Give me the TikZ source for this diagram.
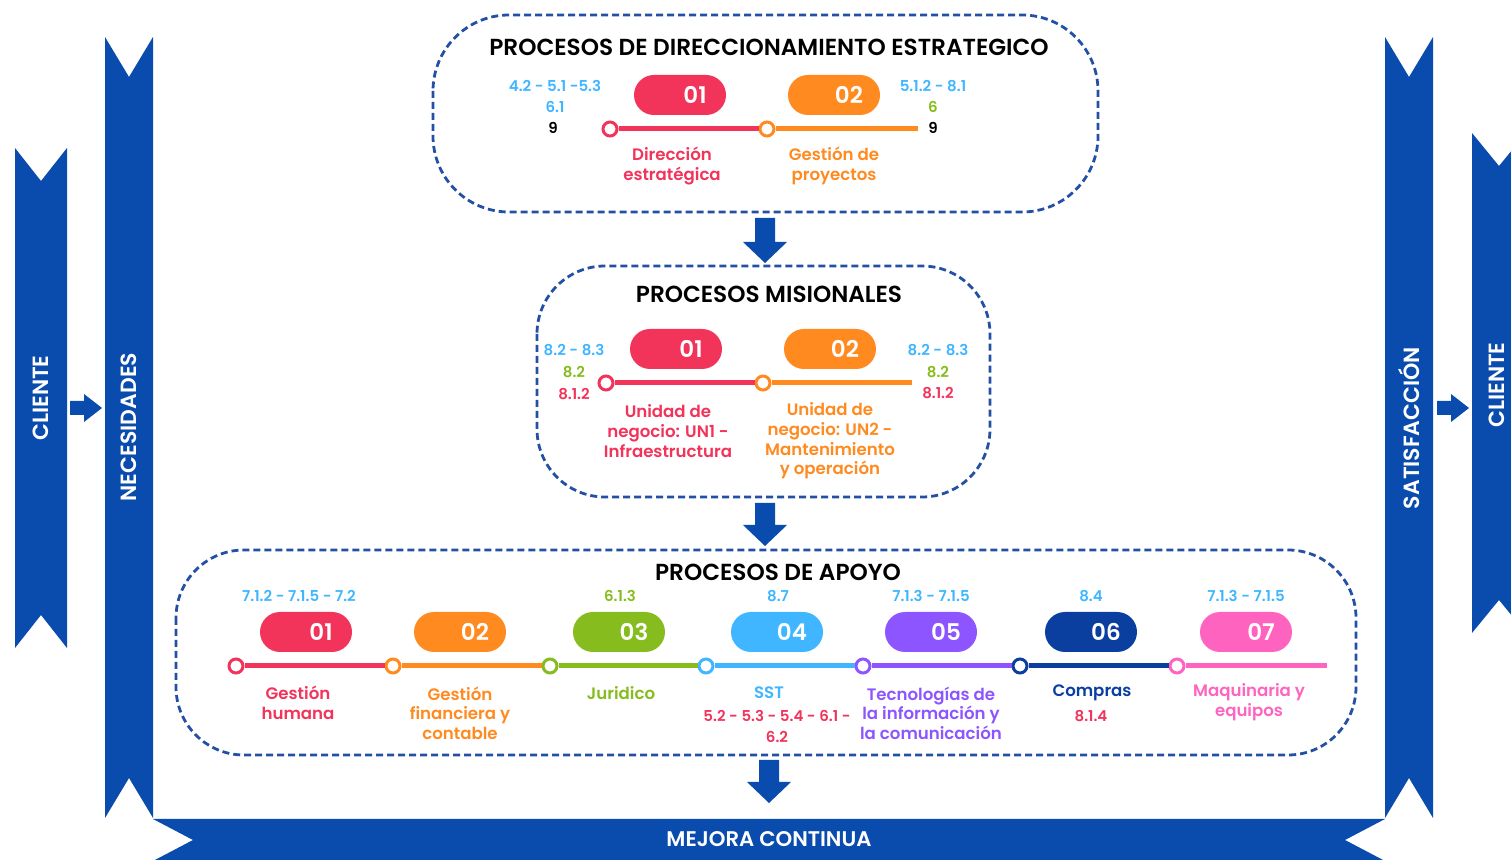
\documentclass[tikz,border=0pt]{standalone}
\usepackage{fontspec}
\setmainfont{Poppins}
\newfontfamily\semib{Poppins SemiBold}
\definecolor{mblue}{HTML}{0A4BAE}
\definecolor{dashblue}{HTML}{2350A5}
\definecolor{cred}{HTML}{F2335A}
\definecolor{corange}{HTML}{FF8A1F}
\definecolor{cgreen}{HTML}{86BC1E}
\definecolor{clblue}{HTML}{3FB6FF}
\definecolor{cpurple}{HTML}{8D55FF}
\definecolor{cnavy}{HTML}{0A3FA0}
\definecolor{cpink}{HTML}{FF63C0}
\tikzset{
  title/.style={font=\fontsize{11.6}{13}\selectfont\semib, text=black},
  pill/.style={fill=#1, rounded corners=10pt, minimum width=46pt, minimum height=20pt, inner sep=0pt, text=white, font=\fontsize{11.5}{12}\selectfont\semib},
  dot/.style={circle, draw=#1, fill=white, line width=1.5pt, minimum size=7pt, inner sep=0pt},
  tline/.style={line width=2.5pt, #1},
  lbl/.style={align=center, text=#1, font=\fontsize{8.3}{9.8}\selectfont\semib, inner sep=0pt},
  code/.style={align=center, text=#1, font=\fontsize{7.5}{10.5}\selectfont\semib, inner sep=0pt},
  dbox/.style={draw=dashblue, dash pattern=on 3.5pt off 2pt, line width=1.4pt},
  banner/.style={fill=mblue},
  btxt/.style={text=white, font=\fontsize{11}{12}\selectfont\semib, rotate=90},
}
\begin{document}
\begin{tikzpicture}[x=0.5pt,y=-0.5pt]
\useasboundingbox (0,0) rectangle (1511,860);
\clip (0,0) rectangle (1511,860);

% banners
\fill[banner] (15,148) -- (41,181) -- (67,148) -- (67,648) -- (41,615) -- (15,648) -- cycle;
\fill[banner] (105,37) -- (129,77) -- (153,37) -- (153,818) -- (129,778) -- (105,818) -- cycle;
\fill[banner] (1385,37) -- (1409,77) -- (1433,37) -- (1433,818) -- (1409,778) -- (1385,818) -- cycle;
\fill[banner] (1472,133) -- (1499,166) -- (1526,133) -- (1526,633) -- (1499,600) -- (1472,633) -- cycle;
\fill[banner] (153,819) -- (1385,819) -- (1345,840) -- (1385,861) -- (153,861) -- (193,840) -- cycle;

\node[btxt] (cli1) at (41,398) {CLIENTE};
\node[btxt] (nec) at (129,427) {NECESIDADES};
\node[btxt] (sat) at (1409,428) {SATISFACCIÓN};
\node[btxt] (cli2) at (1497,385) {CLIENTE};
\node[text=white, font=\fontsize{10.6}{11}\selectfont\semib] (mej) at (769,839) {MEJORA CONTINUA};

% small right arrows
\fill[mblue] (70,401) -- (84,401) -- (84,394) -- (102,408) -- (84,422) -- (84,415) -- (70,415) -- cycle;
\fill[mblue] (1437,401) -- (1451,401) -- (1451,394) -- (1469,408) -- (1451,422) -- (1451,415) -- (1437,415) -- cycle;

% down arrows
\fill[mblue] (755,218) -- (775,218) -- (775,242) -- (787,242) -- (765,263) -- (743,242) -- (755,242) -- cycle;
\fill[mblue] (755,503) -- (775,503) -- (775,525) -- (787,525) -- (765,546) -- (743,525) -- (755,525) -- cycle;
\fill[mblue] (759,760) -- (779,760) -- (779,782) -- (791,782) -- (769,803) -- (747,782) -- (759,782) -- cycle;

% ===== top box
\draw[dbox, rounded corners=38pt] (433,15) rectangle (1098,212);
\node[title] (t1) at (769,47) {PROCESOS DE DIRECCIONAMIENTO ESTRATEGICO};
\node[pill=cred] (p11) at (680,95) {\hspace*{15pt}01};
\node[pill=corange] (p12) at (834,95) {\hspace*{15pt}02};
\node[dot=cred] (d11) at (610,129) {};
\node[dot=corange] (d12) at (767,129) {};
\coordinate (e1) at (918,129);
\draw[tline=cred] (d11.east) -- (d12.west);
\draw[tline=corange] (d12.east) -- (e1);
\node[code=clblue] (c11) at (555,86) {4.2 - 5.1 -5.3};
\node[code=clblue] (c12) at (555,107) {6.1};
\node[code=black] (c13) at (553,128) {9};
\node[code=clblue] (c14) at (933,86) {5.1.2 - 8.1};
\node[code=cgreen] (c15) at (933,107) {6};
\node[code=black] (c16) at (933,128) {9};
\node[lbl=cred] (l11) at (672,166) {Dirección\\estratégica};
\node[lbl=corange] (l12) at (834,166) {Gestión de\\proyectos};

% ===== middle box
\draw[dbox, rounded corners=34pt] (537,266) rectangle (990,497);
\node[title] (t2) at (769,294) {PROCESOS MISIONALES};
\node[pill=cred] (p21) at (676,349) {\hspace*{15pt}01};
\node[pill=corange] (p22) at (830,349) {\hspace*{15pt}02};
\node[dot=cred] (d21) at (606,383) {};
\node[dot=corange] (d22) at (763,383) {};
\coordinate (e2) at (912,383);
\draw[tline=cred] (d21.east) -- (d22.west);
\draw[tline=corange] (d22.east) -- (e2);
\node[code=clblue] (c21) at (574,350) {8.2 - 8.3};
\node[code=cgreen] (c22) at (574,372) {8.2};
\node[code=cred] (c23) at (574,394) {8.1.2};
\node[code=clblue] (c24) at (938,350) {8.2 - 8.3};
\node[code=cgreen] (c25) at (938,372) {8.2};
\node[code=cred] (c26) at (938,393) {8.1.2};
\node[lbl=cred] (l21) at (668,431) {Unidad de\\negocio: UN1 -\\Infraestructura};
\node[lbl=corange] (l22) at (830,441) {Unidad de\\negocio: UN2 -\\Mantenimiento\\y operación};

% ===== bottom box
\draw[dbox, rounded corners=34pt] (176,550) rectangle (1356,755);
\node[title] (t3) at (778,572) {PROCESOS DE APOYO};
\node[pill=cred] (p31) at (306,632) {\hspace*{15pt}01};
\node[pill=corange] (p32) at (460,632) {\hspace*{15pt}02};
\node[pill=cgreen] (p33) at (619,632) {\hspace*{15pt}03};
\node[pill=clblue] (p34) at (777,632) {\hspace*{15pt}04};
\node[pill=cpurple] (p35) at (931,632) {\hspace*{15pt}05};
\node[pill=cnavy] (p36) at (1091,632) {\hspace*{15pt}06};
\node[pill=cpink] (p37) at (1246,632) {\hspace*{15pt}07};
\node[dot=cred] (d31) at (236,666) {};
\node[dot=corange] (d32) at (393,666) {};
\node[dot=cgreen] (d33) at (550,666) {};
\node[dot=clblue] (d34) at (706,666) {};
\node[dot=cpurple] (d35) at (863,666) {};
\node[dot=cnavy] (d36) at (1020,666) {};
\node[dot=cpink] (d37) at (1177,666) {};
\coordinate (e3) at (1327,666);
\draw[tline=cred] (d31.east) -- (d32.west);
\draw[tline=corange] (d32.east) -- (d33.west);
\draw[tline=cgreen] (d33.east) -- (d34.west);
\draw[tline=clblue] (d34.east) -- (d35.west);
\draw[tline=cpurple] (d35.east) -- (d36.west);
\draw[tline=cnavy] (d36.east) -- (d37.west);
\draw[tline=cpink] (d37.east) -- (e3);
\node[code=clblue] (c31) at (299,596) {7.1.2 - 7.1.5 - 7.2};
\node[code=cgreen] (c33) at (620,596) {6.1.3};
\node[code=clblue] (c34) at (778,596) {8.7};
\node[code=clblue] (c35) at (931,596) {7.1.3 - 7.1.5};
\node[code=clblue] (c36) at (1091,596) {8.4};
\node[code=clblue] (c37) at (1246,596) {7.1.3 - 7.1.5};
\node[lbl=cred] (l31) at (298,703) {Gestión\\humana};
\node[lbl=corange] (l32) at (460,713) {Gestión\\financiera y\\contable};
\node[lbl=cgreen] (l33) at (621,693) {Juridico};
\node[lbl=clblue] (l34) at (769,693) {SST};
\node[code=cred] (c38) at (777,726) {5.2 - 5.3 - 5.4 - 6.1 -\\6.2};
\node[lbl=cpurple] (l35) at (931,713) {Tecnologías de\\la información y\\la comunicación};
\node[lbl=cnavy] (l36) at (1092,693) {Compras};
\node[code=cred] (c39) at (1091,716) {8.1.4};
\node[lbl=cpink] (l37) at (1249,702) {Maquinaria y\\equipos};
\end{tikzpicture}
\end{document}
